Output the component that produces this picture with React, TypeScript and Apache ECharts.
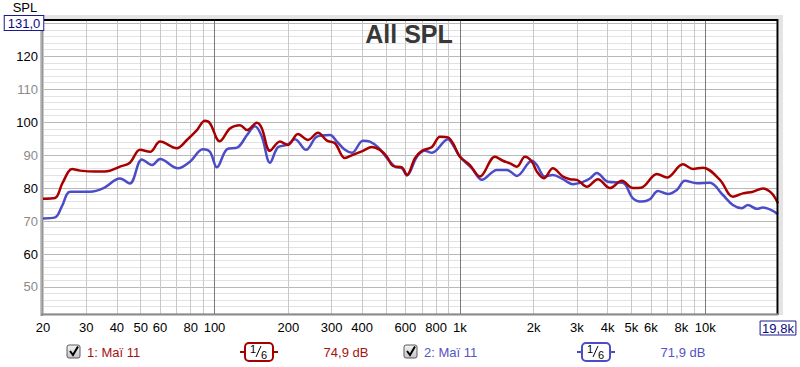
import React, { useEffect, useRef } from "react";
import * as echarts from "echarts";

const FONT = "'Liberation Sans', Arial, sans-serif";

// Frequency grid (Hz) and labels
const FREQ_TICKS = [20, 30, 40, 50, 60, 70, 80, 90, 100, 200, 300, 400, 500, 600, 700, 800, 900, 1000, 2000, 3000, 4000, 5000, 6000, 7000, 8000, 9000, 10000];
const FREQ_LABELS = [20, 30, 40, 50, 60, 80, 100, 200, 300, 400, 600, 800, 1000, 2000, 3000, 4000, 5000, 6000, 8000, 10000, 19800];
const FREQ_MIN = 20;
const FREQ_MAX = 19800;

// SPL grid (dB)
const DB_TICKS = [42, 44, 46, 48, 50, 52, 54, 56, 58, 60, 62, 64, 66, 68, 70, 72, 74, 76, 78, 80, 82, 84, 86, 88, 90, 92, 94, 96, 98, 100, 102, 104, 106, 108, 110, 112, 114, 116, 118, 120, 122, 124, 126, 128, 130];
const DB_LABELS = [50, 60, 70, 80, 90, 100, 110, 120];
const DB_MIN = 41.8;
const DB_MAX = 131;
const DB_MAX_LABEL = "131,0";

// Series 1 (red)
const redFreq = [20, 22.4, 24.0, 26.3, 28.3, 32.6, 36.5, 41.2, 45.2, 49.7, 54.6, 60, 70.3, 77.2, 84.8, 91.4, 95.8, 105, 115.6, 127, 135.7, 148.9, 156, 168.3, 184.9, 199.3, 218.8, 240.4, 264, 287.4, 309.8, 340.2, 366.7, 402.7, 438.2, 472.3, 504.4, 533.7, 580.6, 608.7, 656.2, 700.6, 769.6, 829.7, 894.3, 937.2, 1001, 1099, 1207, 1390, 1498, 1600, 1708, 1841, 1966, 2060, 2200, 2394, 2630, 2810, 3000, 3296, 3654, 4089, 4576, 5075, 5521, 6353, 6980, 8110, 8909, 9786, 11482, 12964, 14244, 15642, 17180, 18696, 19800];
const redDb = [76.8, 77.0, 81.5, 85.8, 85.3, 85.0, 85.1, 86.5, 87.7, 91.6, 91.0, 94.1, 92.1, 94.6, 97.6, 100.4, 99.7, 94.2, 98.1, 99.1, 97.6, 99.8, 98.1, 91.3, 94.1, 93.1, 96.4, 94.6, 96.8, 94.4, 93.6, 89.1, 90.1, 91.3, 92.5, 91.6, 89.5, 86.7, 86.3, 84.0, 89.1, 91.3, 92.5, 95.6, 95.4, 93.6, 89.5, 87.0, 83.5, 89.5, 88.3, 87.5, 86.5, 89.5, 88.0, 85.0, 83.0, 86.0, 83.5, 82.7, 82.5, 80.4, 82.7, 80.0, 82.2, 80.0, 80.2, 84.3, 83.2, 87.2, 85.8, 86.2, 82.5, 77.4, 78.4, 78.9, 79.9, 78.4, 75.4];

// Series 2 (blue)
const blueFreq = [20, 22.4, 23.9, 25.8, 31.1, 35.1, 41.2, 45.2, 50.6, 55.6, 60, 71, 79.4, 89.7, 95.8, 102.3, 112.4, 124.6, 135.7, 146.2, 156, 168.3, 181.4, 197.4, 212.8, 236, 261.6, 295.6, 315.6, 340.2, 363.4, 402.7, 430, 463.6, 504.4, 544, 580.6, 608.7, 668.4, 720.8, 769.6, 894.3, 937.2, 1001, 1120, 1230, 1416, 1555, 1708, 1966, 2060, 2220, 2394, 2630, 2888, 3174, 3388, 3618, 4012, 4618, 5075, 5521, 5950, 6414, 7046, 7664, 8262, 9247, 10448, 11804, 12964, 14108, 14926, 16242, 17180, 19800];
const blueDb = [70.8, 71.1, 74.5, 78.9, 78.9, 79.9, 82.9, 81.4, 88.7, 87.0, 88.8, 86.0, 88.0, 91.8, 91.0, 86.3, 91.8, 92.4, 96.1, 98.8, 95.6, 87.7, 92.4, 93.1, 94.8, 91.6, 95.6, 96.1, 94.1, 91.6, 90.7, 94.4, 94.1, 92.4, 89.1, 86.5, 86.0, 83.8, 89.5, 91.3, 90.7, 94.8, 93.1, 89.5, 86.0, 82.5, 85.5, 85.5, 83.7, 88.3, 87.0, 83.5, 84.0, 82.7, 81.2, 81.9, 82.9, 84.6, 81.9, 81.6, 76.9, 75.9, 76.6, 79.1, 78.2, 79.4, 82.2, 81.5, 81.6, 77.9, 74.9, 73.9, 74.9, 73.7, 74.1, 72.1];

const SERIES_NAMES = ["1: Maï 11", "2: Maï 11"];
const SERIES_LEVELS = ["74,9 dB", "71,9 dB"];
const RED = "#a80000";
const BLUE = "#4c4cc8";
const RED_TXT = "#a51212";
const BLUE_TXT = "#5454c4";

const lg = (f: number) => Math.log10(f);

function fmtFreq(v: number) {
  const f = Math.round(Math.pow(10, v));
  if (f === FREQ_MAX) return "{box|19,8k}";
  return f >= 1000 ? f / 1000 + "k" : String(f);
}

function legendGroup(x0: number, name: string, level: string, color: string, txt: string) {
  return [
    {
      type: "rect",
      shape: { x: x0, y: 345, width: 13, height: 13, r: 2 },
      style: {
        fill: new echarts.graphic.LinearGradient(0, 0, 0, 1, [
          { offset: 0, color: "#f4f4f4" },
          { offset: 1, color: "#c4c4c4" },
        ]),
        stroke: "#5a5a5a",
        lineWidth: 1,
      },
    },
    {
      type: "polyline",
      shape: { points: [[x0 + 3, 351], [x0 + 6, 355], [x0 + 11, 346.5]] },
      style: { stroke: "#000", lineWidth: 2, fill: "none" },
    },
    {
      type: "text",
      style: { x: x0 + 20, y: 352, text: name, fill: txt, font: `13px ${FONT}`, verticalAlign: "middle" },
    },
    {
      type: "line",
      shape: { x1: x0 + 173, y1: 352, x2: x0 + 211, y2: 352 },
      style: { stroke: color, lineWidth: 2 },
    },
    {
      type: "rect",
      shape: { x: x0 + 178, y: 343, width: 28, height: 18, r: 4 },
      style: { fill: "#fff", stroke: color, lineWidth: 2 },
    },
    {
      type: "text",
      style: { x: x0 + 186, y: 349, text: "1", fill: "#000", font: `11px ${FONT}`, align: "center", verticalAlign: "middle" },
    },
    {
      type: "line",
      shape: { x1: x0 + 189, y1: 357, x2: x0 + 194, y2: 346 },
      style: { stroke: "#000", lineWidth: 1 },
    },
    {
      type: "text",
      style: { x: x0 + 197, y: 355, text: "6", fill: "#000", font: `11px ${FONT}`, align: "center", verticalAlign: "middle" },
    },
    {
      type: "text",
      style: { x: x0 + 279, y: 352, text: level, fill: txt, font: `13px ${FONT}`, align: "center", verticalAlign: "middle" },
    },
  ];
}

export default function App() {
  const ref = useRef<HTMLDivElement>(null);
  useEffect(() => {
    document.body.style.margin = "0";
    const chart = echarts.init(ref.current!, null, { renderer: "svg" });
    const xColors = ["#c8c8c8", "#c8c8c8", "#c8c8c8", "#c8c8c8", "#c8c8c8", "#c8c8c8", "#c8c8c8", "#c8c8c8", "#7a7a7a"];
    const yColors = ["#e2e2e2", "#e2e2e2", "#e2e2e2", "#e2e2e2", "#b8b8b8"];
    const option: any = {
      animation: false,
      backgroundColor: "#fff",
      textStyle: { fontFamily: FONT },
      grid: { left: 43, right: 22, top: 20, bottom: 53, outerBoundsMode: "none" },
      xAxis: {
        type: "value",
        min: lg(FREQ_MIN),
        max: lg(FREQ_MAX),
        axisLine: { show: false },
        axisTick: { show: false, customValues: FREQ_TICKS.map(lg) },
        splitLine: { show: true, lineStyle: { color: xColors, width: 1 } },
        axisLabel: {
          customValues: FREQ_LABELS.map(lg),
          formatter: fmtFreq,
          color: "#000",
          fontSize: 13,
          fontFamily: FONT,
          margin: 7,
          hideOverlap: false,
          rich: {
            box: {
              color: "#0a0a80",
              fontSize: 13,
              fontFamily: FONT,
              borderColor: "#1a1a90",
              borderWidth: 1,
              padding: [1, 2, 0, 2],
            },
          },
        },
      },
      yAxis: {
        type: "value",
        min: DB_MIN,
        max: DB_MAX,
        axisLine: { show: false },
        axisTick: { show: false, customValues: DB_TICKS },
        splitLine: { show: true, lineStyle: { color: yColors, width: 1 } },
        axisLabel: {
          customValues: DB_LABELS,
          color: (v: number) => (Number(v) % 20 === 0 ? "#000" : "#8a8a8a"),
          fontSize: 13,
          fontFamily: FONT,
          margin: 5,
        },
      },
      series: [
        {
          type: "line",
          name: SERIES_NAMES[1],
          data: blueFreq.map((f, i) => [lg(f), blueDb[i]]),
          symbol: "none",
          smooth: 0.35,
          lineStyle: { color: BLUE, width: 2.5 },
          z: 3,
        },
        {
          type: "line",
          name: SERIES_NAMES[0],
          data: redFreq.map((f, i) => [lg(f), redDb[i]]),
          symbol: "none",
          smooth: 0.35,
          lineStyle: { color: RED, width: 2.5 },
          z: 4,
        },
      ],
      graphic: [
        // frame
        { type: "rect", shape: { x: 40, y: 15, width: 743, height: 4 }, style: { fill: "#e4e4e4" }, z: 10 },
        { type: "rect", shape: { x: 779, y: 15, width: 4, height: 300 }, style: { fill: "#e4e4e4" }, z: 10 },
        { type: "line", shape: { x1: 42, y1: 20, x2: 778, y2: 20 }, style: { stroke: "#000", lineWidth: 2 }, z: 10 },
        { type: "line", shape: { x1: 777.5, y1: 19, x2: 777.5, y2: 315 }, style: { stroke: "#000", lineWidth: 2 }, z: 10 },
        {
          type: "rect",
          shape: { x: 40, y: 19, width: 3, height: 297 },
          style: {
            fill: new echarts.graphic.LinearGradient(0, 0, 1, 0, [
              { offset: 0, color: "#d0d0d0" },
              { offset: 1, color: "#8c8c8c" },
            ]),
          },
          z: 10,
        },
        { type: "line", shape: { x1: 41, y1: 314.5, x2: 778, y2: 314.5 }, style: { stroke: "#8a8a8a", lineWidth: 2 }, z: 10 },
        // axis name and top value box
        { type: "text", style: { x: 25, y: 7, text: "SPL", fill: "#000", font: `13px ${FONT}`, align: "center", verticalAlign: "middle" }, z: 10 },
        {
          type: "text",
          style: {
            x: 24,
            y: 23,
            text: DB_MAX_LABEL,
            fill: "#0a0a80",
            font: `13px ${FONT}`,
            align: "center",
            verticalAlign: "middle",
            borderColor: "#1a1a90",
            borderWidth: 1,
            backgroundColor: "#fff",
            padding: [1, 3, 0, 3],
          },
          z: 11,
        },
        // title
        { type: "text", style: { x: 409, y: 34, text: "All SPL", fill: "#383838", font: `bold 25px ${FONT}`, align: "center", verticalAlign: "middle" }, z: 10 },
        // legend
        ...legendGroup(67, SERIES_NAMES[0], SERIES_LEVELS[0], RED, RED_TXT),
        ...legendGroup(404, SERIES_NAMES[1], SERIES_LEVELS[1], BLUE, BLUE_TXT),
      ],
    };
    chart.setOption(option);
    return () => chart.dispose();
  }, []);
  return <div ref={ref} style={{ width: 800, height: 367 }} />;
}
